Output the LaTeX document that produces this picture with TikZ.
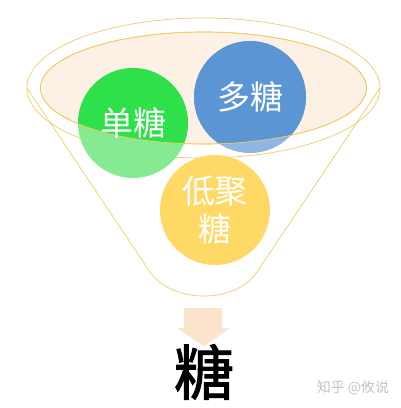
\documentclass[tikz,border=0pt]{standalone}
\usepackage{fontspec}
\usepackage{tikz}
\usetikzlibrary{positioning,shapes.geometric}
\newfontfamily\cjk{Noto Sans CJK SC}
\newfontfamily\cjkheavy[FakeBold=1.6]{Noto Sans CJK SC}
\definecolor{rimgold}{HTML}{F0CC66}
\definecolor{peach}{HTML}{FDF0E5}
\definecolor{arrowpeach}{HTML}{FBE3CC}
\definecolor{greenfull}{HTML}{2EE04A}
\definecolor{greenlite}{HTML}{86EB90}
\definecolor{bluefull}{HTML}{5B95D3}
\definecolor{bluelite}{HTML}{8FB5E2}
\definecolor{sugaryellow}{HTML}{FFD966}
\definecolor{markgray}{HTML}{C4C4C4}
\tikzset{%
	rim/.style      = {draw=rimgold, line width=0.7pt},
	sugar/.style    = {circle, minimum size=110pt, inner sep=0pt, text=white, align=center, font=\cjk\fontsize{33}{38}\selectfont},
	result/.style   = {font=\cjkheavy\fontsize{60}{62}\selectfont, text=black, inner sep=0pt},
	watermark/.style= {font=\cjk\fontsize{14}{15}\selectfont, text=markgray, inner sep=0pt},
}
\begin{document}
\begin{tikzpicture}[x=1pt,y=-1pt]
	\useasboundingbox[fill=white] (0,0) rectangle (400,408);
	
	% funnel
	\coordinate (rimL) at (27,88);
	\coordinate (rimR) at (380,88);
	\coordinate (neckL) at (150,272);
	\coordinate (neckR) at (257,272);
	\draw[rim] (203.5,88) ellipse [x radius=176.5, y radius=70];
	\draw[rim] (rimL) -- (neckL) .. controls (172,304) and (236,304) .. (neckR) -- (rimR);
	\filldraw[rim, fill=peach] (203.5,88) ellipse [x radius=163, y radius=56];
	
	% sugars
	\coordinate (mono) at (133,123);
	\coordinate (poly) at (250,97);
	\coordinate (oligo) at (215,210);
	\fill[greenlite] (mono) circle [radius=55];
	\fill[bluelite] (poly) circle [radius=56];
	\fill[sugaryellow] (oligo) circle [radius=55];
	\begin{scope}
		\clip (203.5,88) ellipse [x radius=163, y radius=56];
		\fill[greenfull] (mono) circle [radius=55];
		\fill[bluefull] (poly) circle [radius=56];
	\end{scope}
	\draw[rim] (203.5,88) ellipse [x radius=163, y radius=56];
	
	\node[sugar] (monoText) at (mono) {单糖};
	\node[sugar] (polyText) at (poly) {多糖};
	\node[sugar] (oligoText) at (oligo) {低聚\\糖};
	
	% arrow and result
	\fill[arrowpeach] (184,308) -- (222,308) -- (222,328) -- (230,328) -- (204,346) -- (177,328) -- (184,328) -- cycle;
	\node[result] (sugar) at (204,372) {糖};
	\node[watermark] (mark) at (353,388) {知乎 @攸说};
	
\end{tikzpicture}
\end{document}
